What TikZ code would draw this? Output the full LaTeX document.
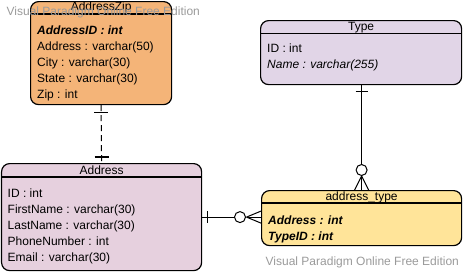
\documentclass[tikz,border=0pt]{standalone}
\usepackage{fontspec}
\setmainfont{Liberation Sans}
\usetikzlibrary{calc}
\definecolor{zipfill}{HTML}{F4B478}
\definecolor{addrfill}{HTML}{E6D0DE}
\definecolor{typefill}{HTML}{E1D5E7}
\definecolor{linkfill}{HTML}{FFE499}
\definecolor{wmgray}{HTML}{9A9A9A}
\begin{document}
\begin{tikzpicture}[x=1pt,y=-1pt,
  entity/.style={draw=black, line width=1.2pt, rounded corners=8pt, inner sep=0pt, anchor=north west},
  field/.style={anchor=base west, inner sep=0pt, font=\fontsize{12}{14}\selectfont},
  title/.style={anchor=base, inner sep=0pt, font=\fontsize{12}{14}\selectfont},
  sep/.style={line width=1.2pt},
  rel/.style={draw=black, line width=1pt},
  mark bar/.style={draw=black, line width=1.2pt},
  watermark/.style={anchor=base west, inner sep=0pt, text=wmgray, font=\fontsize{12}{14}\selectfont}]
\useasboundingbox (0,0) rectangle (464,271);

% --- entities ---
\node[entity, fill=zipfill, minimum width=141pt, minimum height=103pt] (zip) at (30,1) {};
\node[entity, fill=typefill, minimum width=201pt, minimum height=64pt] (type) at (260,20) {};
\node[entity, fill=addrfill, minimum width=200pt, minimum height=107pt] (addr) at (1,163) {};
\node[entity, fill=linkfill, minimum width=200pt, minimum height=55pt] (link) at (261,190) {};

% header separators
\draw[sep] (zip.west |- 0,14) -- (zip.east |- 0,14);
\draw[sep] (type.west |- 0,33.5) -- (type.east |- 0,33.5);
\draw[sep] (addr.west |- 0,177) -- (addr.east |- 0,177);
\draw[sep] (link.west |- 0,203) -- (link.east |- 0,203);

% --- AddressZip ---
\node[title] (zipT) at (zip.north |- 0,10.5) {AddressZip};
\node[field] (zip1) at (37,34.5) {\textbf{\textit{AddressID : int}}};
\node[field] (zip2) at (37,50.5) {Address : varchar(50)};
\node[field] (zip3) at (37,66.5) {City : varchar(30)};
\node[field] (zip4) at (37,82.5) {State : varchar(30)};
\node[field] (zip5) at (37,98) {Zip : int};

% --- Type ---
\node[title] (typeT) at (type.north |- 0,30.5) {Type};
\node[field] (type1) at (267,52) {ID : int};
\node[field] (type2) at (267,68) {\textit{Name : varchar(255)}};

% --- Address ---
\node[title] (addrT) at (addr.north |- 0,174) {Address};
\node[field] (addr1) at (7.5,197.5) {ID : int};
\node[field] (addr2) at (7.5,213.5) {FirstName : varchar(30)};
\node[field] (addr3) at (7.5,229.5) {LastName : varchar(30)};
\node[field] (addr4) at (7.5,245.5) {PhoneNumber : int};
\node[field] (addr5) at (7.5,261.5) {Email : varchar(30)};

% --- address_type ---
\node[title] (linkT) at (link.north |- 0,200.5) {address\_type};
\node[field] (link1) at (268,224) {\textbf{\textit{Address : int}}};
\node[field] (link2) at (268,240) {\textbf{\textit{TypeID : int}}};

% --- AddressZip 1 -- 1 Address (dashed) ---
\draw[rel, dash pattern=on 6pt off 4pt] (zip.south) -- (addr.north);
\draw[mark bar] ($(zip.south)+(-7,7)$) -- ($(zip.south)+(7,7)$);
\draw[mark bar] ($(addr.north)+(-7,-6)$) -- ($(addr.north)+(7,-6)$);

% --- Type 1 -- 0..* address_type ---
\coordinate (typeEnd) at (type.south -| link.north);
\draw[rel] (typeEnd) -- ($(link.north)+(0,-25.5)$);
\draw[mark bar] ($(typeEnd)+(-6,6)$) -- ($(typeEnd)+(6,6)$);
\draw[rel] ($(link.north)+(0,-20)$) circle[radius=5.5pt];
\draw[rel] ($(link.north)+(0,-14)$) -- ($(link.north)+(-7,0)$);
\draw[rel] ($(link.north)+(0,-14)$) -- (link.north);
\draw[rel] ($(link.north)+(0,-14)$) -- ($(link.north)+(7,0)$);

% --- Address 1 -- 0..* address_type ---
\coordinate (addrEnd) at (addr.east);
\coordinate (linkEnd) at (addr.east -| link.west);
\draw[rel] (addrEnd) -- ($(linkEnd)+(-26.5,0)$);
\draw[mark bar] ($(addrEnd)+(5.5,-6)$) -- ($(addrEnd)+(5.5,6)$);
\draw[rel] ($(linkEnd)+(-21,0)$) circle[radius=5.5pt];
\draw[rel] ($(linkEnd)+(-14.5,0)$) -- ($(linkEnd)+(0,-6)$);
\draw[rel] ($(linkEnd)+(-14.5,0)$) -- (linkEnd);
\draw[rel] ($(linkEnd)+(-14.5,0)$) -- ($(linkEnd)+(0,6)$);

% --- edition labels ---
\node[watermark] (wmTop) at (6.5,15.5) {Visual Paradigm Online Free Edition};
\node[watermark] (wmBottom) at (265.5,265.5) {Visual Paradigm Online Free Edition};
\end{tikzpicture}
\end{document}
